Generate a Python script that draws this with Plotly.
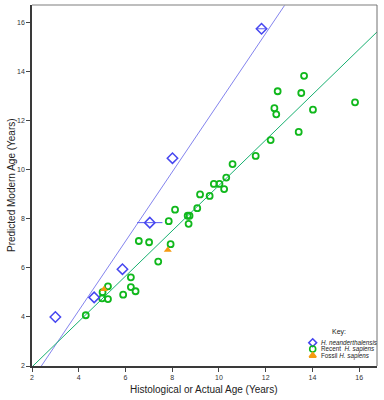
import numpy as np
import plotly.graph_objects as go

# ---------------- data ----------------
nean_x = [3.0, 4.66, 5.87, 7.04, 8.01, 11.82]
nean_y = [4.0, 4.80, 5.95, 7.85, 10.48, 15.76]
nean_err_plus = [0, 0, 0, 0.54, 0, 0.24]
nean_err_minus = [0, 0, 0, 0.54, 0, 0.22]

recent_x = [4.30, 5.00, 5.25, 5.02, 5.25, 5.90, 6.23, 6.43, 6.23, 6.57,
            7.01, 7.40, 7.85, 7.93, 8.12, 8.66, 8.74, 8.70, 9.07, 9.19,
            9.60, 9.78, 10.02, 10.22, 10.31, 10.58, 11.57, 12.21, 12.37, 12.45,
            12.51, 13.41, 13.52, 13.64, 14.02, 15.82]
recent_y = [4.07, 4.76, 4.73, 5.01, 5.25, 4.91, 5.22, 5.05, 5.62, 7.10,
            7.05, 6.26, 7.91, 6.97, 8.38, 8.13, 8.13, 7.80, 8.44, 9.00,
            8.94, 9.43, 9.43, 9.22, 9.69, 10.24, 10.57, 11.22, 12.52, 12.27,
            13.21, 11.55, 13.14, 13.84, 12.46, 12.76]

fossil_x = [5.08, 7.81]
fossil_y = [5.13, 6.73]

# regression lines (slope, intercept)
nean_fit = (1.414, -1.394)
recent_fit = (0.926, 0.111)

x_range = [2, 16.76]
y_range = [2, 16.73]
tick_vals = [2, 4, 6, 8, 10, 12, 14, 16]

x_title = "Histological or Actual Age (Years)"
y_title = "Predicted Modern Age (Years)"

# ---------------- figure ----------------
W, H = 384, 400
ML, MR, MT, MB = 32, 7, 5, 34
PW, PH = W - ML - MR, H - MT - MB


def px(xp):
    return (xp - ML) / PW


def py(yp):
    return (H - MB - yp) / PH


fig = go.Figure()

fx = np.array(x_range)
fig.add_trace(go.Scatter(x=fx, y=nean_fit[0] * fx + nean_fit[1], mode="lines",
                         line=dict(color="#8484ee", width=1), showlegend=False,
                         hoverinfo="skip"))
fig.add_trace(go.Scatter(x=fx, y=recent_fit[0] * fx + recent_fit[1], mode="lines",
                         line=dict(color="#18b070", width=1), showlegend=False,
                         hoverinfo="skip"))

fig.add_trace(go.Scatter(x=recent_x, y=recent_y, mode="markers", name="Recent H. sapiens",
                         marker=dict(symbol="circle-open", size=6, color="#10b81c",
                                     line=dict(width=1.8, color="#10b81c")),
                         showlegend=False))
fig.add_trace(go.Scatter(x=fossil_x, y=fossil_y, mode="markers", name="Fossil H. sapiens",
                         marker=dict(symbol="triangle-up", size=7, color="#f59a10"),
                         showlegend=False))
fig.add_trace(go.Scatter(x=nean_x, y=nean_y, mode="markers", name="H. neanderthalensis",
                         marker=dict(symbol="diamond-open", size=8, color="#4646f0",
                                     line=dict(width=1.5, color="#4646f0")),
                         error_x=dict(type="data", symmetric=False, array=nean_err_plus,
                                      arrayminus=nean_err_minus, color="#5a5af0",
                                      thickness=1, width=0),
                         showlegend=False))

# key markers on a hidden overlay axis (0..1 of the plot area)
key_labels = ["<i>H. neanderthalensis</i>", "Recent  <i>H. sapiens</i>", "Fossil <i>H. sapiens</i>"]
key_symbols = ["diamond-open", "circle-open", "triangle-up"]
key_colors = ["#4646f0", "#10b81c", "#f59a10"]
key_ys = [py(342.7), py(349.0), py(355.6)]
for sym, col, ky in zip(key_symbols, key_colors, key_ys):
    fig.add_trace(go.Scatter(x=[px(312.7)], y=[ky], xaxis="x2", yaxis="y2", mode="markers",
                             marker=dict(symbol=sym, size=6, color=col,
                                         line=dict(width=1.6, color=col)),
                             showlegend=False, hoverinfo="skip"))

txt = "#222"
fam = "Liberation Sans, Arial, sans-serif"
annotations = [dict(text="Key:", xref="paper", yref="paper",
                    x=px(339), y=py(331.5), showarrow=False,
                    font=dict(size=7, color=txt, family=fam), xanchor="center", yanchor="middle")]
for lab, ky in zip(key_labels, key_ys):
    annotations.append(dict(text=lab, xref="paper", yref="paper",
                            x=px(318.5), y=ky, showarrow=False,
                            font=dict(size=6.3, color=txt, family=fam),
                            xanchor="left", yanchor="middle"))
annotations.append(dict(text=x_title, xref="paper", yref="paper", x=px(204), y=py(389.5),
                        showarrow=False, font=dict(size=10, color=txt, family=fam),
                        xanchor="center", yanchor="middle"))
annotations.append(dict(text=y_title, xref="paper", yref="paper", x=px(11), y=py(185),
                        showarrow=False, textangle=-90,
                        font=dict(size=10, color=txt, family=fam),
                        xanchor="center", yanchor="middle"))

axis_font = dict(family=fam, size=7, color="#333")

common = dict(tickvals=tick_vals, ticks="outside", ticklen=4, tickwidth=1,
              tickcolor="#444", showline=True, linecolor="#3a3a3a", linewidth=1.5,
              showgrid=False, zeroline=False, tickfont=axis_font, automargin=False)

fig.update_layout(
    width=W, height=H,
    margin=dict(l=ML, r=MR, t=MT, b=MB),
    paper_bgcolor="white", plot_bgcolor="white",
    font=dict(family=fam),
    showlegend=False,
    xaxis=dict(range=x_range, **common),
    yaxis=dict(range=y_range, **common),
    xaxis2=dict(range=[0, 1], overlaying="x", visible=False, fixedrange=True),
    yaxis2=dict(range=[0, 1], overlaying="y", visible=False, fixedrange=True),
    annotations=annotations,
    shapes=[
        dict(type="line", xref="paper", yref="paper", x0=0, x1=1, y0=1, y1=1,
             line=dict(color="#a8a8a8", width=1.5)),
        dict(type="line", xref="paper", yref="paper", x0=1, x1=1, y0=0, y1=1,
             line=dict(color="#707070", width=1)),
    ],
)

fig.write_html("out.html", config={"displayModeBar": False},
               post_script="document.body.style.margin='0';document.body.style.overflow='hidden';")
